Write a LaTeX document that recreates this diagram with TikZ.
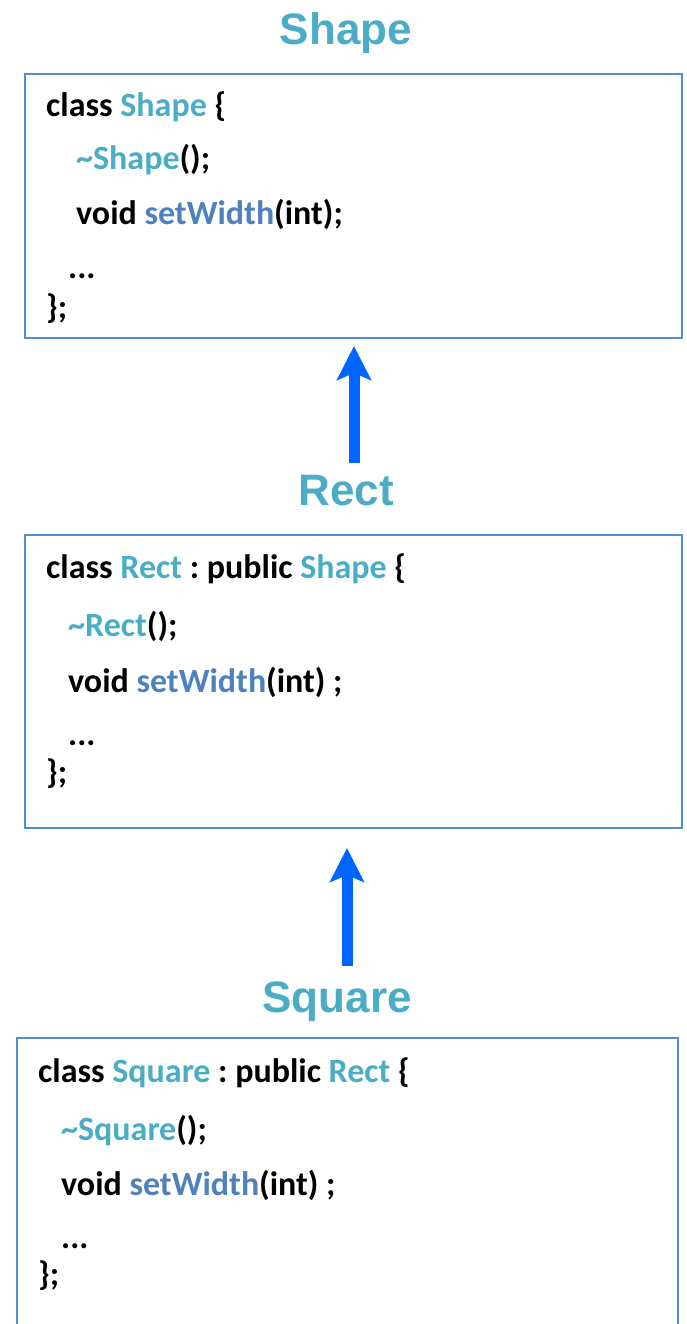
\documentclass[tikz,border=0pt]{standalone}
\usepackage{fontspec}
\setmainfont{Carlito}
\newfontfamily\titlefont{Liberation Sans}
\usepackage{xcolor}
\usetikzlibrary{arrows.meta}
\definecolor{clsname}{RGB}{75,172,198}
\definecolor{method}{RGB}{79,129,189}
\definecolor{boxline}{RGB}{84,141,212}
\definecolor{inherit}{RGB}{0,102,255}
\newcommand{\cn}[1]{\textcolor{clsname}{#1}}
\newcommand{\mt}[1]{\textcolor{method}{#1}}
\frenchspacing

\begin{document}
\begin{tikzpicture}[x=1pt,y=-1pt]
\tikzset{
    title/.style={%
        font=\titlefont\fontsize{44}{48}\selectfont\bfseries,
        text=clsname,
        inner sep=0pt,
        anchor=base
        },
    classbox/.style={%
        draw=boxline, line width=2.3pt,
        rectangle
        },
    code/.style={%
        font=\fontsize{34}{40}\selectfont\bfseries,
        inner sep=0pt,
        anchor=base west
        },
    isa/.style={%
        draw=inherit, line width=11pt,
        -{Stealth[length=34pt,width=34pt,inset=7pt]}
        },
}
\clip (0,0) rectangle (687,1324);
%%%CLASS SHAPE
\node[title] (tshape) at (346,45) {Shape};
\draw[classbox] (25,74) rectangle (682,338);
\coordinate (shapebot) at (354,346);
\node[code] (s1) at (46,117) {class \cn{Shape} \{};
\node[code] (s2) at (76,170) {\cn{\char`~Shape}();};
\node[code] (s3) at (76,225) {void \mt{setWidth}(int);};
\node[code] (s4) at (68,278) {...};
\node[code] (s5) at (46,318) {\};};
%%%CLASS RECT
\node[title] (trect) at (346,505) {Rect};
\draw[classbox] (25,535) rectangle (682,828);
\coordinate (recttop) at (354,463);
\coordinate (rectbot) at (347,848);
\node[code] (r1) at (46,578) {class \cn{Rect} : public \cn{Shape} \{};
\node[code] (r2) at (68,636) {\cn{\char`~Rect}();};
\node[code] (r3) at (68,692) {void \mt{setWidth}(int) ;};
\node[code] (r4) at (68,745) {...};
\node[code] (r5) at (46,783) {\};};
%%%CLASS SQUARE
\node[title] (tsquare) at (337,1012) {Square};
\draw[classbox] (17,1038) rectangle (678,1340);
\coordinate (squaretop) at (347,966);
\node[code] (q1) at (38,1082) {class \cn{Square} : public \cn{Rect} \{};
\node[code] (q2) at (61,1140) {\cn{\char`~Square}();};
\node[code] (q3) at (61,1195) {void \mt{setWidth}(int) ;};
\node[code] (q4) at (61,1248) {...};
\node[code] (q5) at (38,1285) {\};};
%%%INHERITANCE
\draw[isa] (recttop) -- (shapebot);
\draw[isa] (squaretop) -- (rectbot);
\end{tikzpicture}
\end{document}
